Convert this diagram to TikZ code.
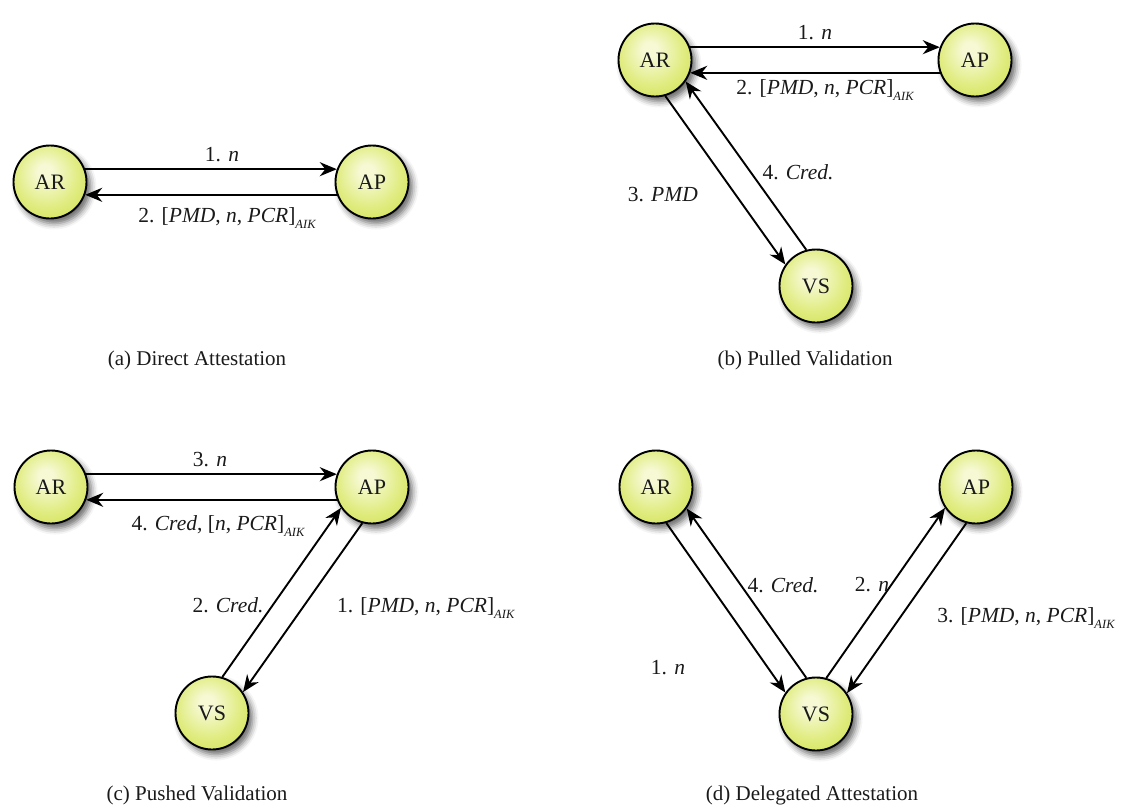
\documentclass[tikz,border=0pt]{standalone}
\usepackage{fontspec}
\setmainfont{Liberation Serif}
\usetikzlibrary{arrows.meta,calc,shadows.blur}

\definecolor{ink}{HTML}{1A1A1A}
\definecolor{ballhi}{HTML}{F6F9D4}
\definecolor{ballmid}{HTML}{E0EC80}
\definecolor{ballout}{HTML}{CCDE48}
\definecolor{ballrim}{HTML}{B2C430}

% light spot slightly above the centre, fading to a yellow-green rim
\pgfdeclareradialshading{nodeball}{\pgfpoint{-4bp}{8bp}}{%
  color(0bp)=(ballhi); color(5bp)=(ballhi); color(22bp)=(ballmid);
  color(38bp)=(ballout); color(50bp)=(ballrim)}

% small italic subscript
\newcommand\sub[1]{\raisebox{-0.32em}{\fontsize{12.5}{12.5}\selectfont\itshape #1}}

% one message arrow between two parties, shifted sideways by #3 degrees
% (positive: left of the direction of travel, negative: right of it)
\newcommand\msgarrow[3]{%
  \draw[msg] let \p1=($(#2)-(#1)$), \n1={atan2(\y1,\x1)},
    \n2={\n1+(#3)}, \n3={\n1+180-(#3)} in (#1.\n2) -- (#2.\n3);}

\begin{document}
\begin{tikzpicture}[x=1pt,y=-1pt,
  ball/.style={circle, draw=black, line width=1.9pt, minimum size=73pt,
    inner sep=0pt, shading=nodeball, text=ink,
    blur shadow={shadow xshift=4pt, shadow yshift=-5pt,
      shadow blur radius=6pt, shadow opacity=60},
    font=\fontsize{22}{22}\selectfont},
  msg/.style={-{Stealth[length=17pt,width=14pt,inset=5.5pt]}, line width=1.9pt, black},
  lbl/.style={font=\fontsize{21.5}{22}\selectfont, text=ink, inner sep=0pt},
  subcap/.style={font=\fontsize{21}{22}\selectfont, text=ink, inner sep=0pt}]
\useasboundingbox (0,0) rectangle (1125,811);

% (a) direct attestation
\node[ball] (aAR) at (50,182) {AR};
\node[ball] (aAP) at (372,182) {AP};
\msgarrow{aAR}{aAP}{20}
\msgarrow{aAP}{aAR}{20}
\node[lbl] (aL1) at (222,155) {1. \textit{n}};
\node[lbl] (aL2) at (227,218) {2. [\textit{PMD}, \textit{n}, \textit{PCR}]\sub{AIK}};
\node[subcap] (aCap) at (197,360) {(a) Direct Attestation};

% (b) pulled validation
\node[ball] (bAR) at (655,60) {AR};
\node[ball] (bAP) at (975,60) {AP};
\node[ball] (bVS) at (816,286) {VS};
\msgarrow{bAR}{bAP}{20}
\msgarrow{bAP}{bAR}{20}
\msgarrow{bAR}{bVS}{-20}
\msgarrow{bVS}{bAR}{-20}
\node[lbl] (bL1) at (815,33) {1. \textit{n}};
\node[lbl] (bL2) at (825,90) {2. [\textit{PMD}, \textit{n}, \textit{PCR}]\sub{AIK}};
\node[lbl, anchor=east] (bL3) at (698,195) {3. \textit{PMD}};
\node[lbl] (bL4) at (798,172) {4. \textit{Cred.}};
\node[subcap] (bCap) at (805,360) {(b) Pulled Validation};

% (c) pushed validation
\node[ball] (cAR) at (51,487) {AR};
\node[ball] (cAP) at (372,487) {AP};
\node[ball] (cVS) at (212,713) {VS};
\msgarrow{cAR}{cAP}{20}
\msgarrow{cAP}{cAR}{20}
\msgarrow{cVS}{cAP}{20}
\msgarrow{cAP}{cVS}{20}
\node[lbl] (cL3) at (210,460) {3. \textit{n}};
\node[lbl] (cL4) at (218,526) {4. \textit{Cred}, [\textit{n}, \textit{PCR}]\sub{AIK}};
\node[lbl] (cL2) at (228,605) {2. \textit{Cred.}};
\node[lbl, anchor=west] (cL1) at (337,608) {1. [\textit{PMD}, \textit{n}, \textit{PCR}]\sub{AIK}};
\node[subcap] (cCap) at (197,795) {(c) Pushed Validation};

% (d) delegated attestation
\node[ball] (dAR) at (656,487) {AR};
\node[ball] (dAP) at (976,487) {AP};
\node[ball] (dVS) at (816,714) {VS};
\msgarrow{dAR}{dVS}{-20}
\msgarrow{dVS}{dAR}{-20}
\msgarrow{dVS}{dAP}{20}
\msgarrow{dAP}{dVS}{20}
\node[lbl] (dL1) at (668,668) {1. \textit{n}};
\node[lbl] (dL4) at (783,585) {4. \textit{Cred.}};
\node[lbl] (dL2) at (872,585) {2. \textit{n}};
\node[lbl] (dL3) at (1026,618) {3. [\textit{PMD}, \textit{n}, \textit{PCR}]\sub{AIK}};
\node[subcap] (dCap) at (812,795) {(d) Delegated Attestation};
\end{tikzpicture}
\end{document}
